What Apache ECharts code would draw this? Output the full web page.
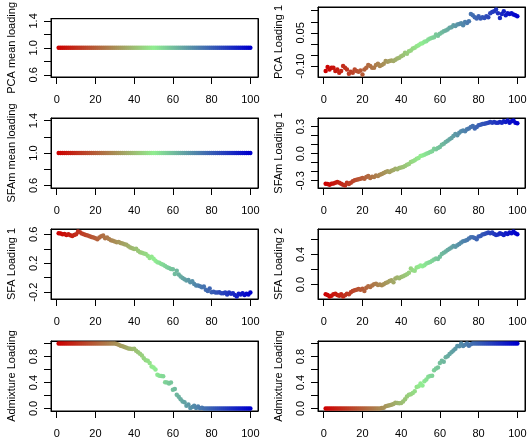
<!DOCTYPE html>
<html><head><meta charset="utf-8">
<script src="https://cdn.jsdelivr.net/npm/echarts@6/dist/echarts.min.js"></script>
<style>html,body{margin:0;padding:0;background:#fff}#c{width:530px;height:440px}</style>
</head><body><div id="c"></div><script>
// ---------- data ----------
const indices = Array.from({length: 100}, (_, i) => i + 1);

const pcaMean = [1,1,1,1,1,1,1,1,1,1, 1,1,1,1,1,1,1,1,1,1, 1,1,1,1,1,1,1,1,1,1, 1,1,1,1,1,1,1,1,1,1, 1,1,1,1,1,1,1,1,1,1,
  1,1,1,1,1,1,1,1,1,1, 1,1,1,1,1,1,1,1,1,1, 1,1,1,1,1,1,1,1,1,1, 1,1,1,1,1,1,1,1,1,1, 1,1,1,1,1,1,1,1,1,1];
const sfamMean = [1,1,1,1,1,1,1,1,1,1, 1,1,1,1,1,1,1,1,1,1, 1,1,1,1,1,1,1,1,1,1, 1,1,1,1,1,1,1,1,1,1, 1,1,1,1,1,1,1,1,1,1,
  1,1,1,1,1,1,1,1,1,1, 1,1,1,1,1,1,1,1,1,1, 1,1,1,1,1,1,1,1,1,1, 1,1,1,1,1,1,1,1,1,1, 1,1,1,1,1,1,1,1,1,1];

const pcaLoading1 = [
  -0.1225,-0.1045,-0.115,-0.1075,-0.1075,-0.1225,-0.115,-0.13,-0.1225,-0.10,
  -0.1075,-0.115,-0.1345,-0.1255,-0.13,-0.115,-0.1225,-0.1255,-0.1195,-0.1375,
  -0.115,-0.1075,-0.0955,-0.10,-0.1075,-0.1075,-0.0955,-0.0895,-0.10,-0.0955,
  -0.0895,-0.0775,-0.0805,-0.0775,-0.0745,-0.0775,-0.0715,-0.0655,-0.0625,-0.055,
  -0.0505,-0.04,-0.0445,-0.0325,-0.0295,-0.0205,-0.0175,-0.01,-0.0055,0.0005,
  0.0035,0.0095,0.0125,0.02,0.0245,0.0275,0.0305,0.0425,0.0365,0.0455,
  0.0515,0.0575,0.0605,0.065,0.0725,0.0755,0.0845,0.0815,0.0875,0.0905,
  0.0935,0.0845,0.0995,0.095,0.1025,0.1355,0.1295,0.1205,0.1145,0.125,
  0.1145,0.1205,0.1175,0.125,0.1205,0.1385,0.1445,0.1475,0.155,0.1385,
  0.1175,0.1355,0.1475,0.1295,0.1385,0.1355,0.1385,0.1325,0.1295,0.125];

const sfamLoading1 = [
  -0.333,-0.337,-0.344,-0.333,-0.330,-0.322,-0.315,-0.322,-0.333,-0.344,
  -0.352,-0.322,-0.337,-0.322,-0.307,-0.296,-0.289,-0.285,-0.278,-0.270,
  -0.278,-0.259,-0.248,-0.270,-0.256,-0.259,-0.241,-0.248,-0.233,-0.226,
  -0.215,-0.204,-0.196,-0.204,-0.189,-0.181,-0.167,-0.174,-0.159,-0.152,
  -0.148,-0.137,-0.122,-0.115,-0.093,-0.085,-0.074,-0.056,-0.048,-0.026,
  -0.019,-0.011,0.000,0.007,0.019,0.026,0.056,0.048,0.063,0.074,
  0.100,0.111,0.130,0.144,0.159,0.174,0.196,0.219,0.204,0.233,
  0.248,0.256,0.248,0.270,0.278,0.296,0.307,0.278,0.296,0.315,
  0.322,0.330,0.333,0.337,0.344,0.352,0.344,0.352,0.344,0.344,
  0.352,0.344,0.359,0.352,0.367,0.344,0.359,0.367,0.344,0.337];

const sfaLoading1 = [
  0.614,0.609,0.600,0.605,0.591,0.600,0.586,0.577,0.591,0.600,
  0.637,0.627,0.609,0.600,0.591,0.582,0.573,0.563,0.554,0.545,
  0.532,0.554,0.573,0.582,0.545,0.554,0.536,0.518,0.509,0.500,
  0.490,0.495,0.481,0.472,0.463,0.454,0.436,0.417,0.408,0.395,
  0.399,0.372,0.353,0.344,0.335,0.326,0.303,0.271,0.289,0.262,
  0.235,0.212,0.207,0.189,0.180,0.162,0.144,0.134,0.121,0.116,
  0.052,0.098,0.043,0.016,-0.003,-0.021,-0.039,-0.030,-0.062,-0.048,
  -0.085,-0.108,-0.108,-0.117,-0.131,-0.121,-0.167,-0.185,-0.149,-0.199,
  -0.195,-0.204,-0.204,-0.199,-0.213,-0.213,-0.204,-0.231,-0.204,-0.222,
  -0.213,-0.240,-0.258,-0.222,-0.231,-0.213,-0.240,-0.222,-0.231,-0.204];

const sfaLoading2 = [
  -0.129,-0.138,-0.156,-0.147,-0.129,-0.120,-0.138,-0.147,-0.129,-0.156,
  -0.142,-0.120,-0.129,-0.102,-0.084,-0.076,-0.067,-0.058,-0.067,-0.053,
  -0.084,-0.040,-0.022,-0.031,-0.013,0.004,0.013,-0.004,0.000,-0.009,
  0.004,0.022,0.031,0.049,0.058,0.031,0.080,0.093,0.084,0.102,
  0.111,0.124,0.138,0.156,0.213,0.191,0.182,0.227,0.236,0.253,
  0.244,0.258,0.280,0.289,0.298,0.316,0.333,0.347,0.338,0.369,
  0.404,0.422,0.440,0.458,0.476,0.493,0.511,0.502,0.520,0.538,
  0.556,0.573,0.582,0.591,0.609,0.627,0.627,0.618,0.600,0.636,
  0.644,0.662,0.671,0.680,0.689,0.680,0.689,0.671,0.658,0.662,
  0.680,0.671,0.658,0.680,0.671,0.689,0.680,0.702,0.680,0.667];

const admixLoadingA = [
  1,1,1,1,1,1,1,1,1,1, 1,1,1,1,1,1,1,1,1,1, 1,1,1,1,1,1,1,1,1,1,
  0.995,0.984,0.968,0.958,0.947,0.937,0.926,0.921,0.916,0.921,
  0.890,0.868,0.842,0.816,0.774,0.742,0.737,0.700,0.647,0.632,
  0.600,0.521,0.505,0.500,0.495,0.405,0.400,0.384,0.400,0.289,
  0.300,0.211,0.180,0.142,0.105,0.095,0.040,0.060,0.005,0.020,
  0.040,0.005,0.030,0.002,0.010,0,0,0,0,0,
  0,0,0,0,0,0,0,0,0,0, 0,0,0,0,0,0,0,0,0,0];

const admixLoadingB = [
  0,0,0,0,0,0,0,0,0,0, 0,0,0,0,0,0,0,0,0,0, 0,0,0,0,0,0,0,0,0,0.005,
  0.010,0.032,0.040,0.047,0.058,0.068,0.089,0.084,0.079,0.084,
  0.105,0.142,0.184,0.211,0.220,0.237,0.263,0.332,0.340,0.384,
  0.353,0.420,0.447,0.489,0.500,0.505,0.590,0.616,0.632,0.700,
  0.737,0.721,0.789,0.805,0.840,0.868,0.895,0.921,0.963,0.958,
  1.0,0.963,0.984,1.0,0.968,0.990,1,1,1,1,
  1,1,1,1,1,1,1,1,1,1, 1,1,1,1,1,1,1,1,1,1];

const xTicks = [0, 20, 40, 60, 80, 100];
const meanTicks = [0.6, 0.8, 1.0, 1.2, 1.4];
const meanLabels = [0.6, 1.0, 1.4];
const pcaL1Ticks = [-0.10, -0.05, 0, 0.05, 0.10, 0.15];
const pcaL1Labels = [-0.10, 0.05];
const sfamL1Ticks = [-0.3, -0.2, -0.1, 0, 0.1, 0.2, 0.3];
const sfamL1Labels = [-0.3, 0, 0.3];
const sfaL1Ticks = [-0.2, 0, 0.2, 0.4, 0.6];
const sfaL1Labels = [-0.2, 0.2, 0.6];
const sfaL2Ticks = [0, 0.2, 0.4, 0.6];
const sfaL2Labels = [0, 0.4];
const admixTicks = [0, 0.2, 0.4, 0.6, 0.8, 1.0];
const admixLabels = [0, 0.4, 0.8];

const panelTitles = ['PCA mean loading', 'PCA Loading 1', 'SFAm mean loading', 'SFAm Loading 1',
  'SFA Loading 1', 'SFA Loading 2', 'Admixture Loading', 'Admixture Loading'];

// ---------- layout / style ----------
const panels = [
  {vals: pcaMean, ticks: meanTicks, labels: meanLabels, dec: 1},
  {vals: pcaLoading1, ticks: pcaL1Ticks, labels: pcaL1Labels, dec: 2},
  {vals: sfamMean, ticks: meanTicks, labels: meanLabels, dec: 1},
  {vals: sfamLoading1, ticks: sfamL1Ticks, labels: sfamL1Labels, dec: 1},
  {vals: sfaLoading1, ticks: sfaL1Ticks, labels: sfaL1Labels, dec: 1},
  {vals: sfaLoading2, ticks: sfaL2Ticks, labels: sfaL2Labels, dec: 1},
  {vals: admixLoadingA, ticks: admixTicks, labels: admixLabels, dec: 1},
  {vals: admixLoadingB, ticks: admixTicks, labels: admixLabels, dec: 1}
];

const colLeft = [51, 318], colWidth = [207, 207];
const rowTop = [7, 118, 229, 341], plotH = 70;
const FONT = 'Liberation Sans';
const BLACK = {color: '#000', width: 1};

function rampPalette(n) {
  const stops = [[205, 0, 0], [144, 238, 144], [0, 0, 205]];
  const out = [];
  for (let i = 0; i < n; i++) {
    const t = i / (n - 1) * (stops.length - 1);
    const k = Math.min(Math.floor(t), stops.length - 2), f = t - k;
    const c = stops[k].map((v, j) => Math.round(v + (stops[k + 1][j] - v) * f));
    out.push('rgb(' + c.join(',') + ')');
  }
  return out;
}
const palette = rampPalette(indices.length);

function rRange(vals) {
  let lo = Math.min(...vals), hi = Math.max(...vals);
  if (hi - lo < 1e-12) { lo = lo - 0.4 * Math.abs(lo); hi = hi + 0.4 * Math.abs(hi); }
  const d = (hi - lo) * 0.04;
  return [lo - d, hi + d];
}

const grid = [], xAxis = [], yAxis = [], series = [];
panels.forEach((p, i) => {
  const r = Math.floor(i / 2), c = i % 2;
  grid.push({left: colLeft[c], top: rowTop[r], width: colWidth[c], height: plotH,
    show: true, borderColor: '#000', borderWidth: 1, backgroundColor: 'rgba(0,0,0,0)'});
  const xr = rRange(indices);
  const yr = rRange(p.vals);
  xAxis.push({type: 'value', gridIndex: i, min: xr[0], max: xr[1], position: 'bottom',
    axisLine: {show: true, onZero: false, lineStyle: BLACK}, splitLine: {show: false},
    axisTick: {show: true, inside: false, length: 7, customValues: xTicks, lineStyle: BLACK},
    axisLabel: {customValues: xTicks, margin: 17, fontFamily: FONT, fontSize: 11, color: '#000'}});
  xAxis.push({type: 'value', gridIndex: i, min: xr[0], max: xr[1], position: 'top',
    axisLine: {show: true, onZero: false, lineStyle: BLACK}, splitLine: {show: false},
    axisTick: {show: false}, axisLabel: {show: false}});
  yAxis.push({type: 'value', gridIndex: i, min: yr[0], max: yr[1], position: 'left',
    name: panelTitles[i], nameLocation: 'middle', nameRotate: 90, nameGap: 34,
    nameTextStyle: {fontFamily: FONT, fontSize: 11, color: '#000'},
    axisLine: {show: true, onZero: false, lineStyle: BLACK}, splitLine: {show: false},
    axisTick: {show: true, inside: false, length: 7, customValues: p.ticks, lineStyle: BLACK},
    axisLabel: {customValues: p.labels, rotate: 90, margin: 12, fontFamily: FONT, fontSize: 11, color: '#000',
      formatter: v => Number(v).toFixed(p.dec)}});
  yAxis.push({type: 'value', gridIndex: i, min: yr[0], max: yr[1], position: 'right',
    axisLine: {show: true, onZero: false, lineStyle: BLACK}, splitLine: {show: false},
    axisTick: {show: false}, axisLabel: {show: false}});
  series.push({type: 'scatter', xAxisIndex: 2 * i, yAxisIndex: 2 * i, symbol: 'circle', symbolSize: 4.5,
    silent: true, animation: false,
    data: indices.map((x, j) => [x, p.vals[j]]),
    itemStyle: {color: prm => palette[prm.dataIndex], opacity: 1}});
});

const chart = echarts.init(document.getElementById('c'), null, {renderer: 'canvas'});
chart.setOption({animation: false, grid, xAxis, yAxis, series});
</script></body></html>
